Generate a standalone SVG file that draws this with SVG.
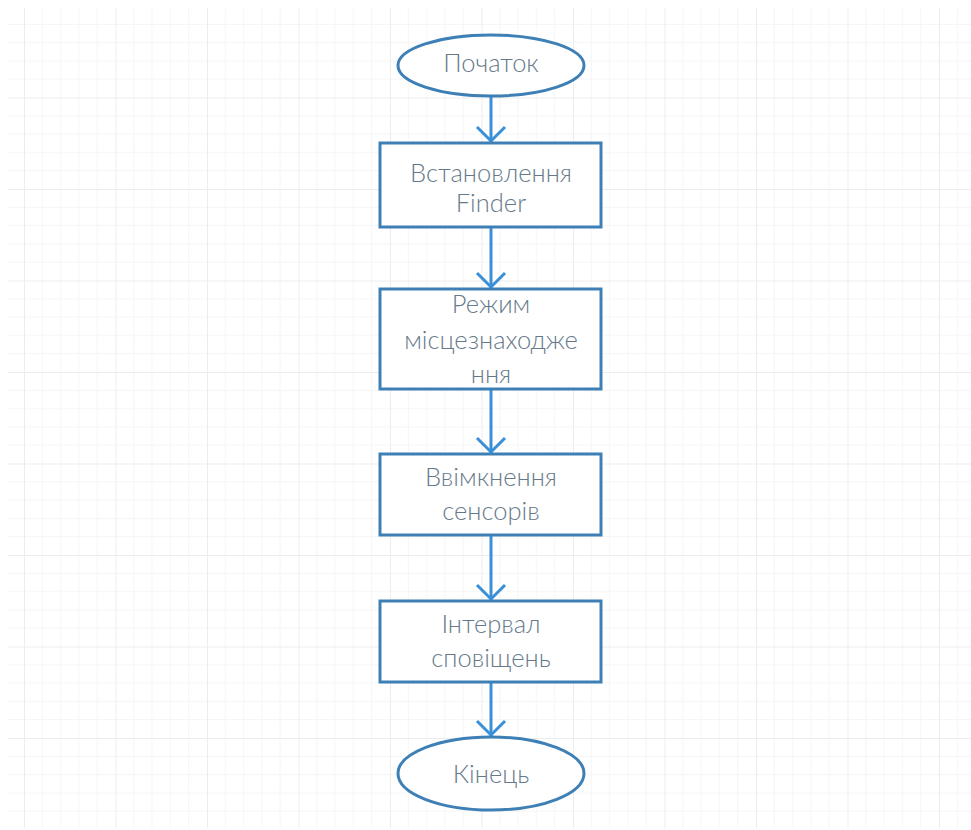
<svg xmlns="http://www.w3.org/2000/svg" width="971" height="830" viewBox="0 0 971 830">
  <defs>
    <pattern id="grid" patternUnits="userSpaceOnUse" x="24" y="6" width="91.5" height="91.5">
      <path d="M18.3 0V91.5M36.6 0V91.5M54.9 0V91.5M73.2 0V91.5M0 18.3H91.5M0 36.6H91.5M0 54.9H91.5M0 73.2H91.5" fill="none" stroke="#f5f5f5" stroke-width="1"/>
      <path d="M0.5 0V91.5M0 0.5H91.5" fill="none" stroke="#ececec" stroke-width="1"/>
    </pattern>
    <style>
      .shape { fill: #ffffff; stroke: #3e80b6; stroke-width: 3; }
      .label { font-family: Lato, "Open Sans", "Liberation Sans", sans-serif; font-size: 25.5px; font-weight: 300; fill: #66798a; text-anchor: middle; }
      .conn { stroke: #3a8fd9; stroke-width: 3; fill: none; }
      .head { stroke: #3a8fd9; stroke-width: 3; fill: none; stroke-linejoin: miter; }
    </style>
  </defs>

  <rect x="0" y="0" width="971" height="830" fill="#ffffff"/>
  <rect x="8" y="8" width="963" height="820" fill="url(#grid)"/>

  <g id="connectors">
    <line class="conn" x1="491" y1="96" x2="491" y2="142"/>
    <polyline class="head" points="477,127 491,141 505,127"/>
    <line class="conn" x1="491" y1="227" x2="491" y2="288"/>
    <polyline class="head" points="477,273 491,287 505,273"/>
    <line class="conn" x1="491" y1="389" x2="491" y2="453"/>
    <polyline class="head" points="477,438 491,452 505,438"/>
    <line class="conn" x1="491" y1="535" x2="491" y2="600"/>
    <polyline class="head" points="477,585 491,599 505,585"/>
    <line class="conn" x1="491" y1="682" x2="491" y2="736"/>
    <polyline class="head" points="477,721 491,735 505,721"/>
  </g>

  <g id="start">
    <ellipse class="shape" cx="491" cy="65.5" rx="93" ry="30.5"/>
    <text class="label" x="491" y="72">Початок</text>
  </g>

  <g id="install-finder">
    <rect class="shape" x="380" y="143" width="221" height="84"/>
    <text class="label" x="491" y="182">Встановлення</text>
    <text class="label" x="491" y="212">Finder</text>
  </g>

  <g id="location-mode">
    <rect class="shape" x="380" y="289" width="221" height="100"/>
    <text class="label" x="491" y="313">Режим</text>
    <text class="label" x="491" y="349">місцезнаходже</text>
    <text class="label" x="491" y="383">ння</text>
  </g>

  <g id="sensors-on">
    <rect class="shape" x="380" y="454" width="221" height="81"/>
    <text class="label" x="491" y="486">Ввімкнення</text>
    <text class="label" x="491" y="520">сенсорів</text>
  </g>

  <g id="notify-interval">
    <rect class="shape" x="380" y="601" width="221" height="81"/>
    <text class="label" x="491" y="633">Інтервал</text>
    <text class="label" x="491" y="667">сповіщень</text>
  </g>

  <g id="end">
    <ellipse class="shape" cx="491" cy="773.5" rx="93" ry="36.5"/>
    <text class="label" x="491" y="783">Кінець</text>
  </g>
</svg>
